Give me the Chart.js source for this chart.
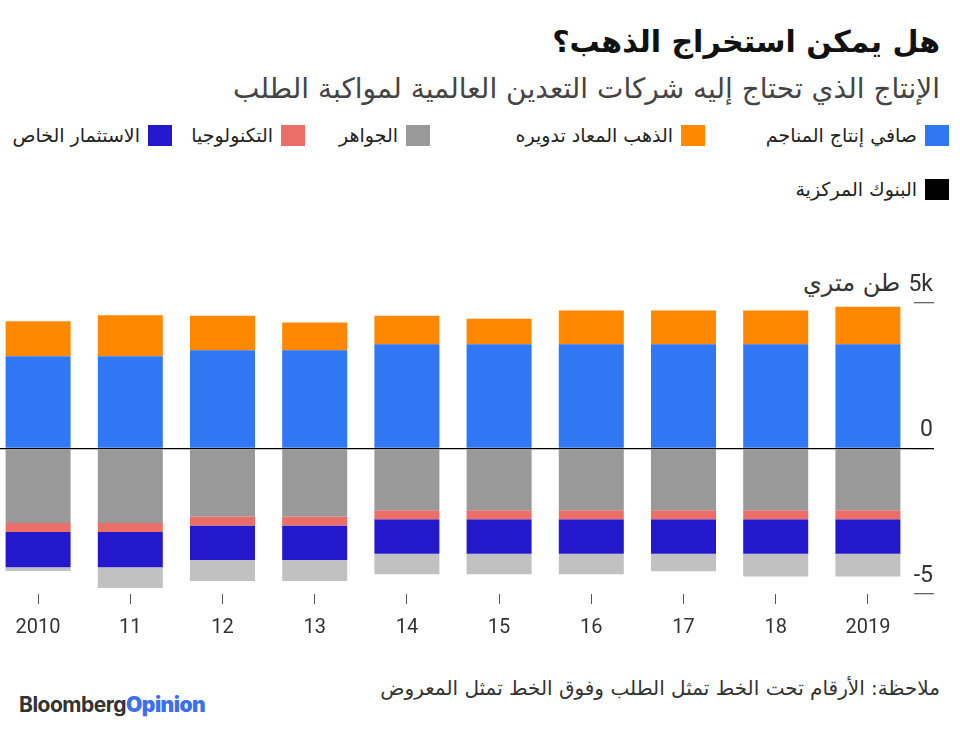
<!DOCTYPE html>
<html>
<head>
<meta charset="utf-8">
<script src="https://cdn.jsdelivr.net/npm/chart.js@4"></script>
<style>
body{margin:0;width:960px;height:738px;overflow:hidden;background:#fff;font-family:"DejaVu Sans",sans-serif;position:relative;color:#222}
#title{position:absolute;right:20px;top:24px;font-size:30px;font-weight:bold;direction:rtl;white-space:nowrap;color:#111}
#sub{position:absolute;right:20px;top:72px;font-size:28px;direction:rtl;white-space:nowrap;color:#444}
.leg{position:absolute;display:flex;align-items:center;direction:rtl;font-size:19px;white-space:nowrap;color:#222}
.leg span.sw{display:inline-block;width:24px;height:21px;margin-left:8px}
#unit{position:absolute;right:60px;top:269px;font-size:24px;direction:rtl;color:#333;white-space:nowrap}
#note{position:absolute;right:20px;top:676px;font-size:20px;direction:rtl;white-space:nowrap;color:#333}
#logo{position:absolute;left:19px;top:692px;font-family:Inter,sans-serif;font-weight:bold;font-size:21px;letter-spacing:-0.5px;color:#333}
#logo b{color:#3b6ff0}
#wrap{position:absolute;left:-8px;top:252px;width:968px;height:400px}
</style>
</head>
<body>
<div id="title">هل يمكن استخراج الذهب؟</div>
<div id="sub">الإنتاج الذي تحتاج إليه شركات التعدين العالمية لمواكبة الطلب</div>
<div id="legend"></div>
<div id="unit">طن متري</div>
<div id="wrap"><canvas id="c"></canvas></div>
<div id="note">ملاحظة: الأرقام تحت الخط تمثل الطلب وفوق الخط تمثل المعروض</div>
<div id="logo">Bloomberg<b>Opinion</b></div>
<script>
// values in metric tonnes
let years=["2010","11","12","13","14","15","16","17","18","2019"];
let mine=[3170,3170,3380,3380,3580,3580,3580,3580,3580,3580];
let recycled=[1200,1410,1180,950,980,880,1160,1160,1160,1290];
let jewelry=[-2560,-2560,-2340,-2340,-2120,-2120,-2120,-2120,-2120,-2120];
let tech=[-310,-310,-310,-310,-310,-310,-310,-310,-310,-310];
let invest=[-1210,-1210,-1180,-1180,-1190,-1190,-1190,-1190,-1190,-1190];
let banks=[-130,-710,-720,-720,-700,-700,-700,-600,-780,-780];

let names=["صافي إنتاج المناجم","الذهب المعاد تدويره","الجواهر","التكنولوجيا","الاستثمار الخاص","البنوك المركزية"];
let colors=["#3077f3","#ff8800","#999999","#ec6e68","#2318cc","#c1c1c1"];
let legendColors=["#3077f3","#ff8800","#999999","#ec6e68","#2318cc","#000000"];
let series=[mine,recycled,jewelry,tech,invest,banks];

// legend spots (right edge of swatch, top)
let legPos=[[11,124],[255,124],[530,124],[655,124],[788,124],[11,178]];
let lg=document.getElementById("legend");
names.forEach((n,i)=>{
let d=document.createElement("div");
d.className="leg";
d.style.right=legPos[i][0]+"px";
d.style.top=legPos[i][1]+"px";
d.innerHTML='<span class="sw" style="background:'+legendColors[i]+'"></span>'+n;
lg.appendChild(d);
});

Chart.defaults.font.family="Roboto, sans-serif";
Chart.defaults.color="#333";

new Chart(document.getElementById("c"),{
type:"bar",
data:{
labels:years,
datasets:series.map((s,i)=>({label:names[i],data:s,backgroundColor:colors[i],stack:"a",barPercentage:0.705,categoryPercentage:1}))
},
options:{
responsive:true,
maintainAspectRatio:false,
animation:false,
layout:{padding:{top:51,bottom:0,left:0,right:0}},
plugins:{legend:{display:false},tooltip:{enabled:false}},
scales:{
x:{
stacked:true,
border:{display:false},
grid:{offset:false,drawOnChartArea:false,tickLength:10,tickColor:"#555"},
ticks:{font:{size:20},padding:12,color:"#333"}
},
y:{
stacked:true,
position:"right",
min:-5000,max:5000,
border:{display:false},
afterFit:s=>{s.width=46;},
grid:{
color:c=>c.tick.value===0?"#000":"rgba(0,0,0,0)",
tickColor:c=>c.tick.value===0?"#000":"#666",
tickLength:20,lineWidth:1.3
},
ticks:{
stepSize:5000,mirror:true,padding:19,labelOffset:-18,
font:{size:23},color:"#333",
callback:v=>v===5000?"5k":v===0?"0":v===-5000?"-5":""
}
}
}
}
});
</script>
</body>
</html>
